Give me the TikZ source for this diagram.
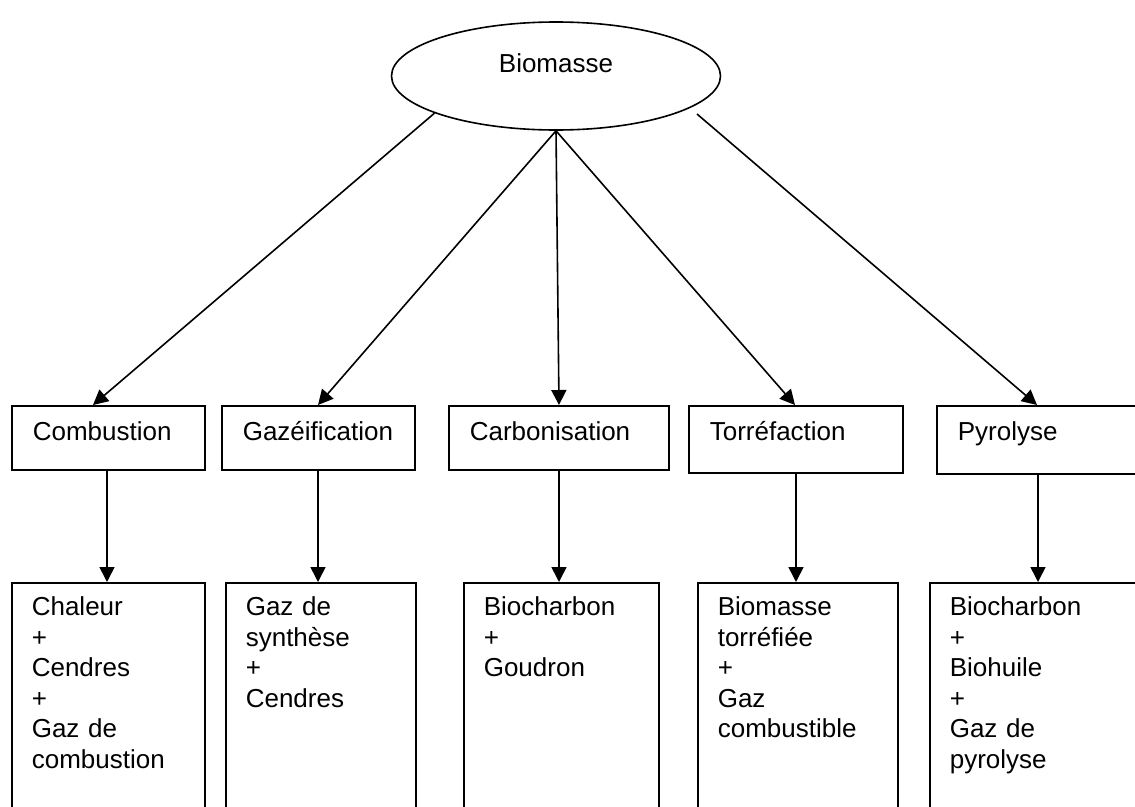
\documentclass[tikz,border=0pt]{standalone}
\usepackage{fontspec}
\setmainfont{Liberation Sans}
\usetikzlibrary{shapes.geometric,arrows.meta,calc}

\begin{document}
\begin{tikzpicture}[x=1pt,y=-1pt,
  line width=1.6pt,
  every node/.style={font=\fontsize{26}{30.5}\selectfont},
  arr/.style={-{Triangle[length=15pt,width=15pt]}},
  procbox/.style={draw,rectangle,anchor=north west,align=left,
    inner xsep=21pt,inner ysep=0pt,text height=35pt,text depth=29pt},
  prodbox/.style={draw,rectangle,anchor=north west,align=left,
    inner xsep=20pt,inner ysep=0pt,text height=33pt,text depth=230pt}]
\useasboundingbox (0,0) rectangle (1135,806);
\clip (0,0) rectangle (1135,806);

% source
\node[draw,ellipse,minimum width=329pt,minimum height=108pt,inner sep=0pt,
      text height=19pt,text depth=27pt] (bio) at (556,76) {Biomasse};

% conversion routes
\node[procbox,text width=151pt] (comb) at (11,405)  {Combustion};
\node[procbox,text width=151pt] (gaz)  at (221,405) {Gazéification};
\node[procbox,text width=178pt] (carb) at (448,405) {Carbonisation};
\node[procbox,text width=172pt,text depth=32pt] (torr) at (688,405) {Torréfaction};
\node[procbox,text width=200pt,text depth=33pt] (pyro) at (936,405) {Pyrolyse};

% products
\node[prodbox,text width=153pt] (r1) at (11,582)  {Chaleur\\+\\Cendres\\+\\Gaz de\\combustion};
\node[prodbox,text width=150pt] (r2) at (225,582) {Gaz de\\synthèse\\+\\Cendres};
\node[prodbox,text width=155pt] (r3) at (463,582) {Biocharbon\\+\\Goudron};
\node[prodbox,text width=160pt] (r4) at (697,582) {Biomasse\\torréfiée\\+\\Gaz\\combustible};
\node[prodbox,text width=200pt] (r5) at (929,582) {Biocharbon\\+\\Biohuile\\+\\Gaz de\\pyrolyse};

% arrows from the biomass
\draw[arr] (bio.197.8) -- ($(comb.north west)+(82,0)$);
\draw[arr] (bio.south) -- ($(gaz.north west)+(97,0)$);
\draw[arr] (bio.south) -- ($(carb.north west)+(111,0)$);
\draw[arr] (bio.south) -- ($(torr.north west)+(107,0)$);
\draw[arr] ($(bio.center)+(141,38)$) -- ($(pyro.north west)+(101,0)$);

% arrows to the products
\draw[arr] ($(comb.south west)+(96,0)$) coordinate (c1) -- (c1 |- r1.north);
\draw[arr] ($(gaz.south west)+(97,0)$)  coordinate (c2) -- (c2 |- r2.north);
\draw[arr] ($(carb.south west)+(111,0)$) coordinate (c3) -- (c3 |- r3.north);
\draw[arr] ($(torr.south west)+(108,0)$) coordinate (c4) -- (c4 |- r4.north);
\draw[arr] ($(pyro.south west)+(102,0)$) coordinate (c5) -- (c5 |- r5.north);
\end{tikzpicture}
\end{document}
